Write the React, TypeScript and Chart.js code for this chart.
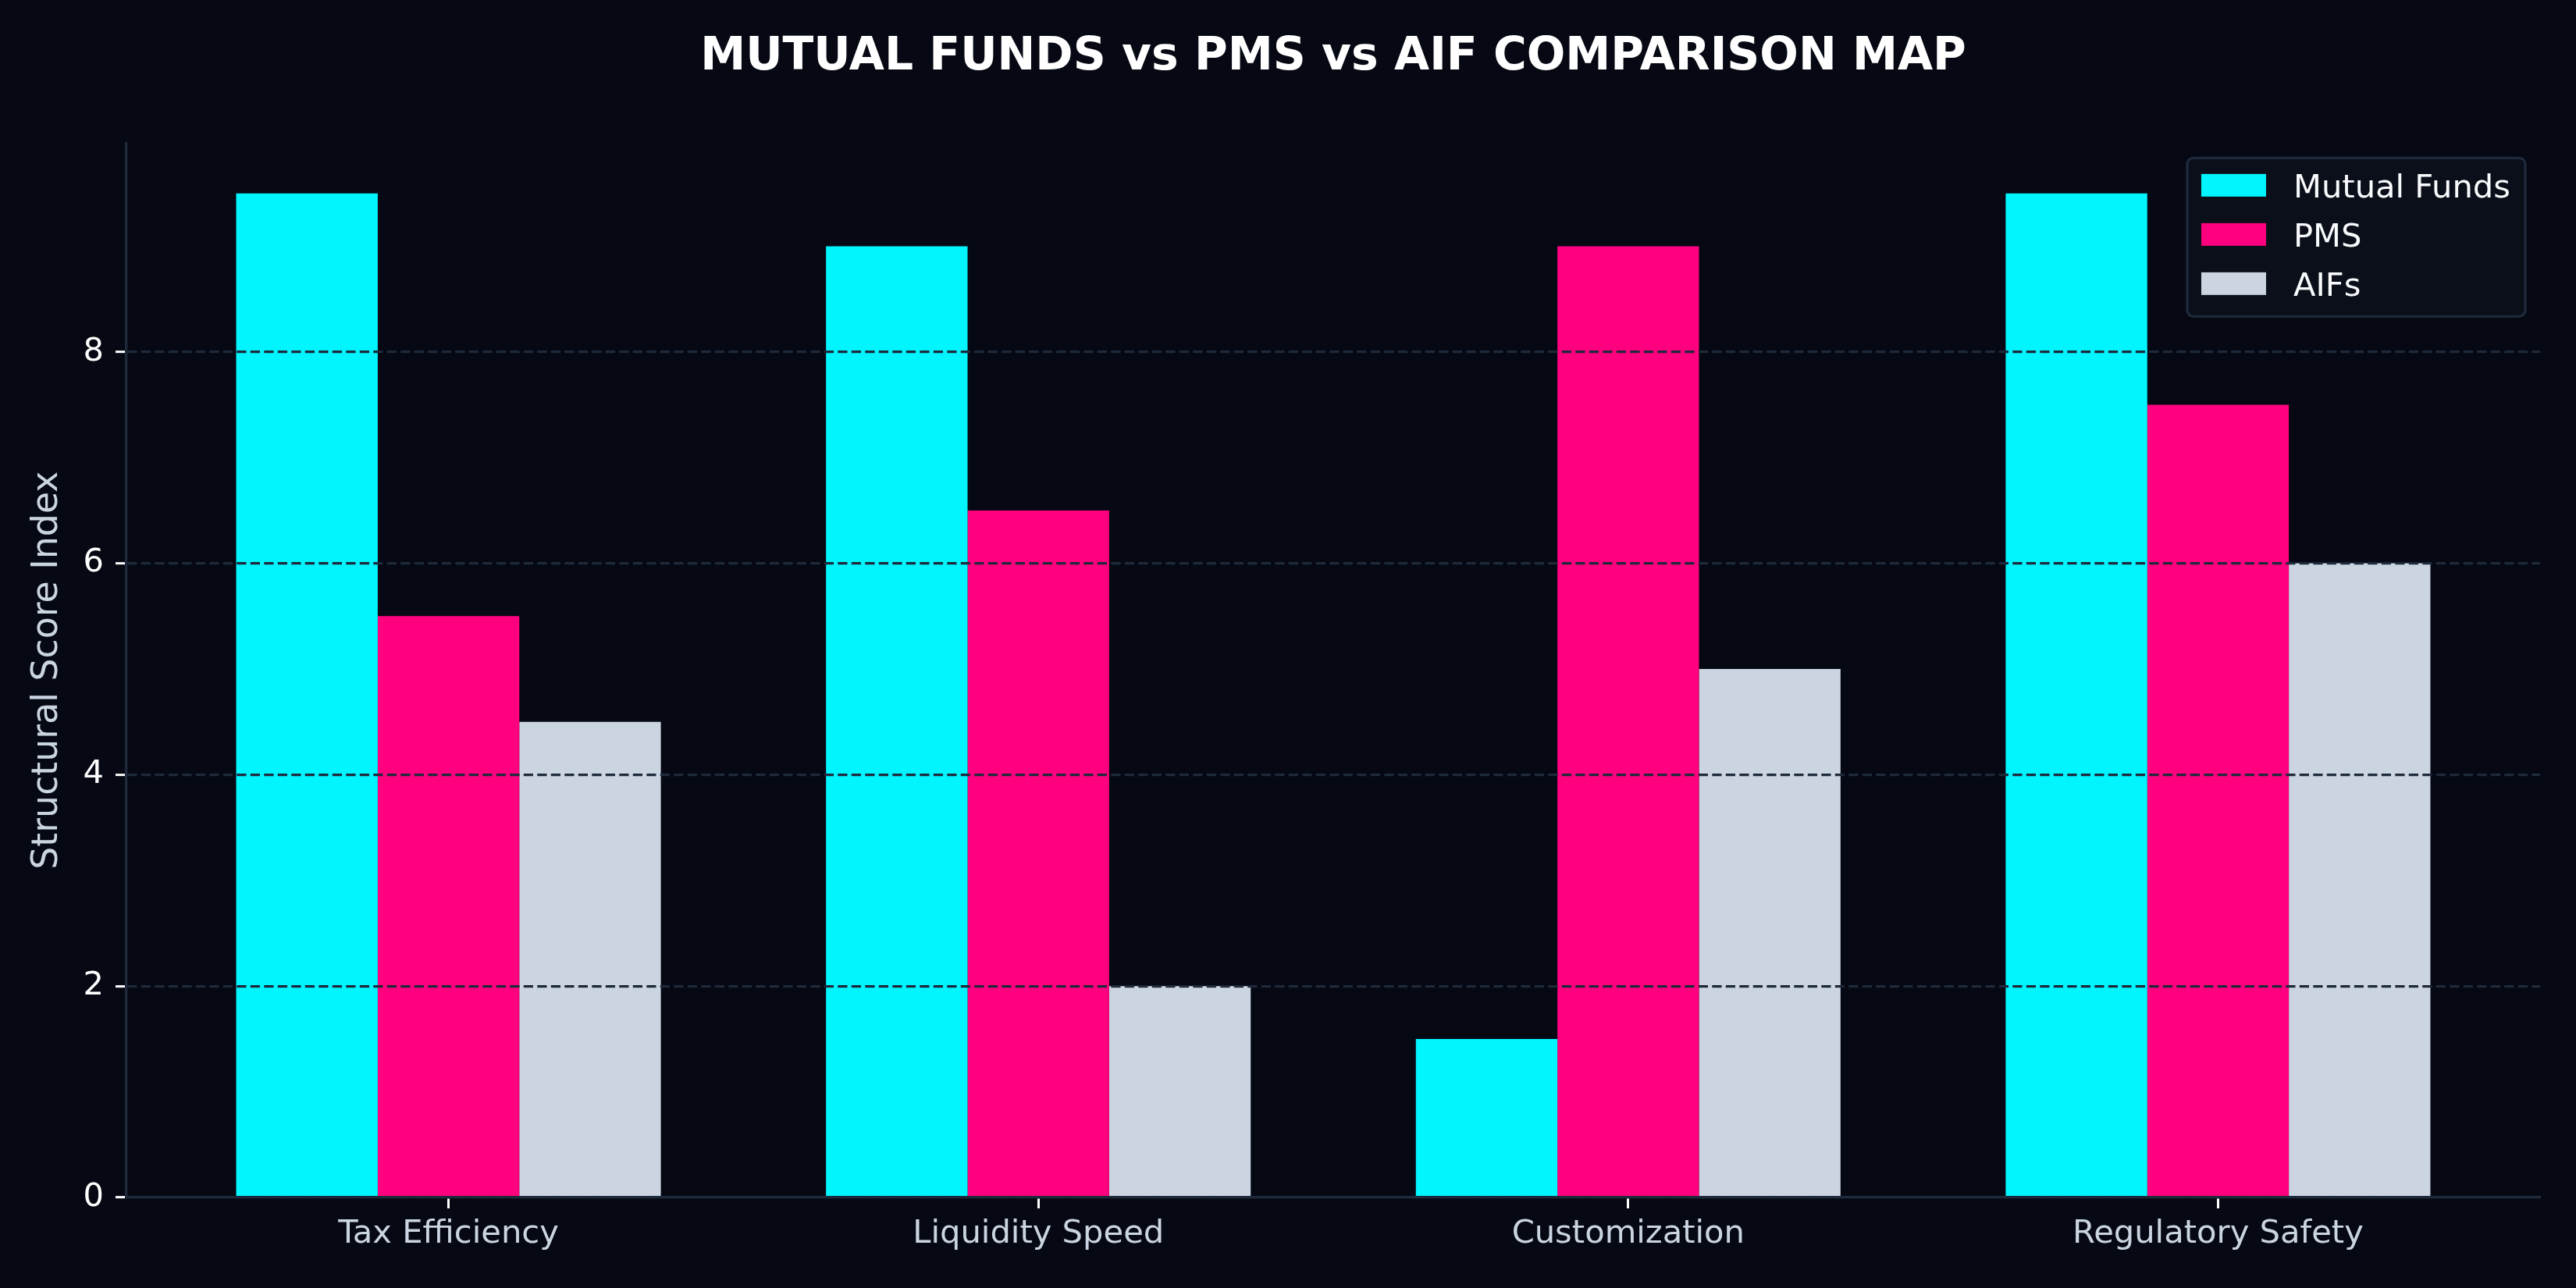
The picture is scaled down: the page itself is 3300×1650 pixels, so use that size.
import React, { useEffect, useRef } from 'react';
import Chart from 'chart.js/auto';

// chart values
const categories = ['Tax Efficiency', 'Liquidity Speed', 'Customization', 'Regulatory Safety'];
const seriesNames = ['Mutual Funds', 'PMS', 'AIFs'];
const mutualFunds = [9.5, 9, 1.5, 9.5];
const pms = [5.5, 6.5, 9, 7.5];
const aifs = [4.5, 2, 5, 6];
const yTicks = [0, 2, 4, 6, 8];
const seriesColors = ['#00f5ff', '#ff007f', '#cbd5e1'];

const BG = '#060913';
const LINE = '#1e293b';
const FONT = '"DejaVu Sans", sans-serif';

// legend drawn inside the plot, top right corner
const insideLegend = {
  id: 'insideLegend',
  afterDraw(chart: any) {
    const { ctx, chartArea } = chart;
    const fs = 41.67;
    ctx.save();
    ctx.font = `${fs}px ${FONT}`;
    const names: string[] = chart.data.datasets.map((d: any) => d.label);
    const textW = Math.max(...names.map((n) => ctx.measureText(n).width));
    const w = 18 + 83 + 35 + textW + 19;
    const h = 203;
    const x = chartArea.right - 19 - w;
    const y = chartArea.top + 19;
    ctx.beginPath();
    ctx.roundRect(x, y, w, h, 8);
    ctx.fillStyle = '#0b0f1a';
    ctx.fill();
    ctx.lineWidth = 3.3;
    ctx.strokeStyle = LINE;
    ctx.stroke();
    chart.data.datasets.forEach((ds: any, i: number) => {
      const cy = y + 35 + i * 63;
      ctx.fillStyle = ds.backgroundColor;
      ctx.fillRect(x + 18, cy - 14.5, 83, 29);
      ctx.fillStyle = '#f8fafc';
      ctx.textBaseline = 'alphabetic';
      ctx.fillText(ds.label, x + 18 + 83 + 35, cy + 0.3645 * fs);
    });
    ctx.restore();
  },
};

function ComparisonChart() {
  const canvasRef = useRef<HTMLCanvasElement | null>(null);

  useEffect(() => {
    if (!canvasRef.current) return;
    Chart.defaults.font.family = FONT;

    const values = [mutualFunds, pms, aifs];
    const chart = new Chart(canvasRef.current, {
      type: 'bar',
      data: {
        datasets: seriesNames.map((name, s) => ({
          label: name,
          data: values[s].map((v, i) => ({ x: i, y: v })),
          backgroundColor: seriesColors[s],
          borderWidth: 0,
          categoryPercentage: 0.72,
          barPercentage: 1,
        })),
      },
      options: {
        animation: false,
        responsive: true,
        maintainAspectRatio: false,
        devicePixelRatio: 1,
        layout: { padding: { left: 0, right: 46, top: 0, bottom: 0 } },
        plugins: {
          legend: { display: false },
          tooltip: { enabled: false },
          title: {
            display: true,
            text: 'MUTUAL FUNDS vs PMS vs AIF COMPARISON MAP',
            color: '#ffffff',
            fullSize: false,
            font: { size: 58.3, weight: 'bold', family: FONT },
            padding: { top: 39, bottom: 74.4 },
          },
        },
        scales: {
          x: {
            type: 'linear',
            min: -0.546,
            max: 3.546,
            offset: false,
            afterBuildTicks: (axis: any) => {
              axis.ticks = categories.map((_, i) => ({ value: i }));
            },
            afterFit: (axis: any) => {
              axis.height = 116;
            },
            ticks: {
              color: '#cbd5e1',
              font: { size: 41.67, family: FONT },
              padding: 8,
              maxRotation: 0,
              autoSkip: false,
              callback: (value: any) => categories[Number(value)] ?? '',
            },
            grid: {
              display: true,
              drawOnChartArea: false,
              offset: false,
              tickLength: 14,
              tickColor: '#ffffff',
              tickWidth: 3,
              tickBorderDash: [],
              z: 1,
            },
            border: { display: true, color: LINE, width: 3.3, z: 2 },
          },
          y: {
            min: 0,
            max: 9.975,
            afterBuildTicks: (axis: any) => {
              axis.ticks = yTicks.map((v) => ({ value: v }));
            },
            afterFit: (axis: any) => {
              axis.width = 162;
            },
            ticks: {
              color: '#ffffff',
              font: { size: 41.67, family: FONT },
              padding: 15,
              callback: (value: any) => String(value),
            },
            grid: {
              color: LINE,
              lineWidth: 3.3,
              tickLength: 14,
              tickColor: '#ffffff',
              tickWidth: 3,
              tickBorderDash: [],
              z: 1,
            },
            border: { display: true, color: LINE, width: 3.3, dash: [12.2, 5.3], z: 2 },
            title: {
              display: true,
              text: 'Structural Score Index',
              color: '#cbd5e1',
              font: { size: 45.8, family: FONT },
              padding: { top: 34, bottom: 0 },
            },
          },
        },
      } as any,
      plugins: [insideLegend],
    });

    return () => {
      chart.destroy();
    };
  }, []);

  return <canvas ref={canvasRef}></canvas>;
}

export default function App() {
  return (
    <div
      style={{
        position: 'fixed',
        left: 0,
        top: 0,
        width: 3300,
        height: 1650,
        background: BG,
      }}
    >
      <ComparisonChart />
    </div>
  );
}
